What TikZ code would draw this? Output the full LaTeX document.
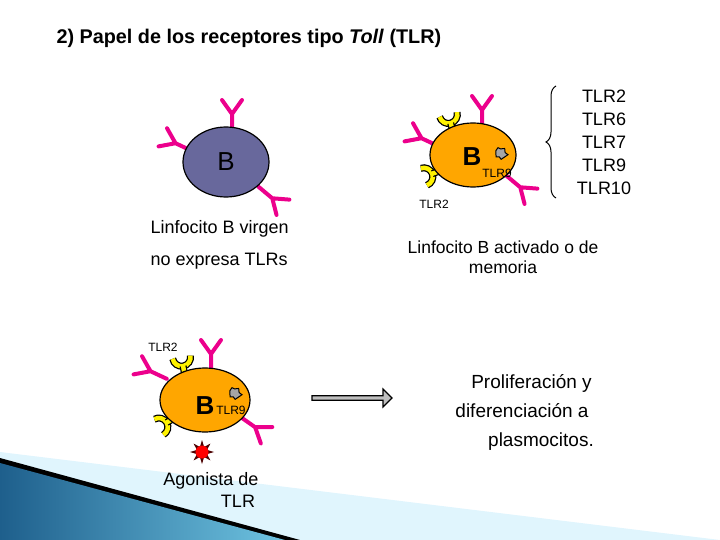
\documentclass[tikz,border=0pt]{standalone}
\usepackage{fontspec}
\setmainfont{Liberation Sans}
\usetikzlibrary{decorations.pathreplacing,shapes.geometric,shapes.arrows}
\definecolor{slateB}{RGB}{104,104,156}
\definecolor{wedgeA}{RGB}{30,95,140}
\definecolor{wedgeB}{RGB}{110,195,225}
\begin{document}
\begin{tikzpicture}[x=1pt,y=-1pt,
  cellB/.style={ellipse,draw=black,line width=1.2pt,fill=#1},
  lbl/.style={font=\fontsize{18}{22}\selectfont,align=center},
  ab/.pic={\draw[magenta,line width=4pt,line cap=round] (0,2)--(0,-16) (0,-16)--(-10,-30) (0,-16)--(10,-30);},
  tlr/.pic={\draw[black,line width=7pt] (-9,-14) arc[start angle=180,end angle=0,radius=9];
            \draw[yellow,line width=4.5pt] (-9,-14) arc[start angle=180,end angle=0,radius=9];
            \draw[black,line width=7pt] (0,-5)--(0,2);
            \draw[yellow,line width=4.5pt] (0,-6)--(0,2);},
  gr/.pic={\draw[fill=gray!70,draw=black,line width=1pt,rotate=20] (-4,-4)--(-1,-6)--(1,-4)--(5,-3)--(4,1)--(6,4)--(2,5)--(-2,6)--(-3,3)--(-6,2)--cycle;}]
\useasboundingbox (0,0) rectangle (720,540);
% background wedge
\fill[cyan!12!white] (0,452)--(720,540)--(0,540)--cycle;
\fill[black] (0,458)--(300,540)--(0,540)--cycle;
\shade[left color=wedgeA,right color=wedgeB] (0,463)--(285,540)--(0,540)--cycle;
\node[anchor=west,font=\fontsize{19.8}{22}\selectfont\bfseries] (title) at (53,38) {2) Papel de los receptores tipo \textit{Toll} (TLR)};
% left cell
\pic at (232,130) {ab};
\pic[rotate=65] at (190,150) {ab};
\pic[rotate=-130] at (260,188) {ab};
\node[cellB=slateB,minimum width=86,minimum height=70] (c1) at (226,162) {};
\node[font=\fontsize{26}{28}\selectfont] (b1) at (226,162) {B};
\node[lbl,anchor=west] (t1) at (147,229) {Linfocito B virgen};
\node[lbl,anchor=west] (t2) at (147,261) {no expresa TLRs};
% middle cell
\pic at (482,126) {ab};
\pic[rotate=65] at (436,145) {ab};
\pic[rotate=-130] at (508,177) {ab};
\pic[rotate=15] at (452,128) {tlr};
\pic[rotate=110] at (437,172) {tlr};
\node[cellB=orange!70!yellow,minimum width=86,minimum height=64] (c2) at (473,155) {};
\node[font=\fontsize{26}{28}\selectfont\bfseries] (b2) at (472,157) {B};
\pic at (501,153) {gr};
\node[font=\fontsize{12}{13}\selectfont] (t9a) at (497,173) {TLR9};
\node[font=\fontsize{12}{13}\selectfont] (t2a) at (434,204) {TLR2};
\draw[decorate,decoration={brace,amplitude=10pt},line width=1pt] (556,198)--(556,86);
\node[lbl,font=\fontsize{18}{23}\selectfont] (list) at (604,142) {TLR2\\TLR6\\TLR7\\TLR9\\TLR10};
\node[lbl,font=\fontsize{17.5}{20}\selectfont] (t3) at (503,257) {Linfocito B activado o de\\memoria};
% bottom cell
\node[font=\fontsize{12}{13}\selectfont] (t2b) at (163,347) {TLR2};
\pic at (211,370) {ab};
\pic[rotate=65] at (165,378) {ab};
\pic[rotate=-125] at (242,418) {ab};
\pic[rotate=10] at (184,371) {tlr};
\pic[rotate=120] at (171,420) {tlr};
\node[cellB=orange!70!yellow,minimum width=90,minimum height=64] (c3) at (205,400) {};
\node[font=\fontsize{26}{28}\selectfont\bfseries] (b3) at (205,406) {B};
\pic at (235,393) {gr};
\node[font=\fontsize{12}{13}\selectfont] (t9b) at (231,410) {TLR9};
\node[star,star points=8,star point ratio=2.2,fill=black!70!red,minimum size=24,inner sep=0] (ag) at (202,452) {};
\node[circle,fill=red,minimum size=13,inner sep=0] (agc) at (202,452) {};
\node[lbl,font=\fontsize{18}{22}\selectfont] (t4) at (211,490) {Agonista de\\\hspace*{3em}TLR};
% arrow
\node[single arrow,draw=black,fill=gray!50,line width=1.2pt,minimum height=80,minimum width=18,single arrow head extend=5,inner sep=1pt] (arr) at (351,398) {};
\node[lbl,font=\fontsize{19}{29}\selectfont] (t5) at (522,412) {\hspace*{1em}Proliferación y\\diferenciación a\\\hspace*{2em}plasmocitos.};
\end{tikzpicture}
\end{document}
